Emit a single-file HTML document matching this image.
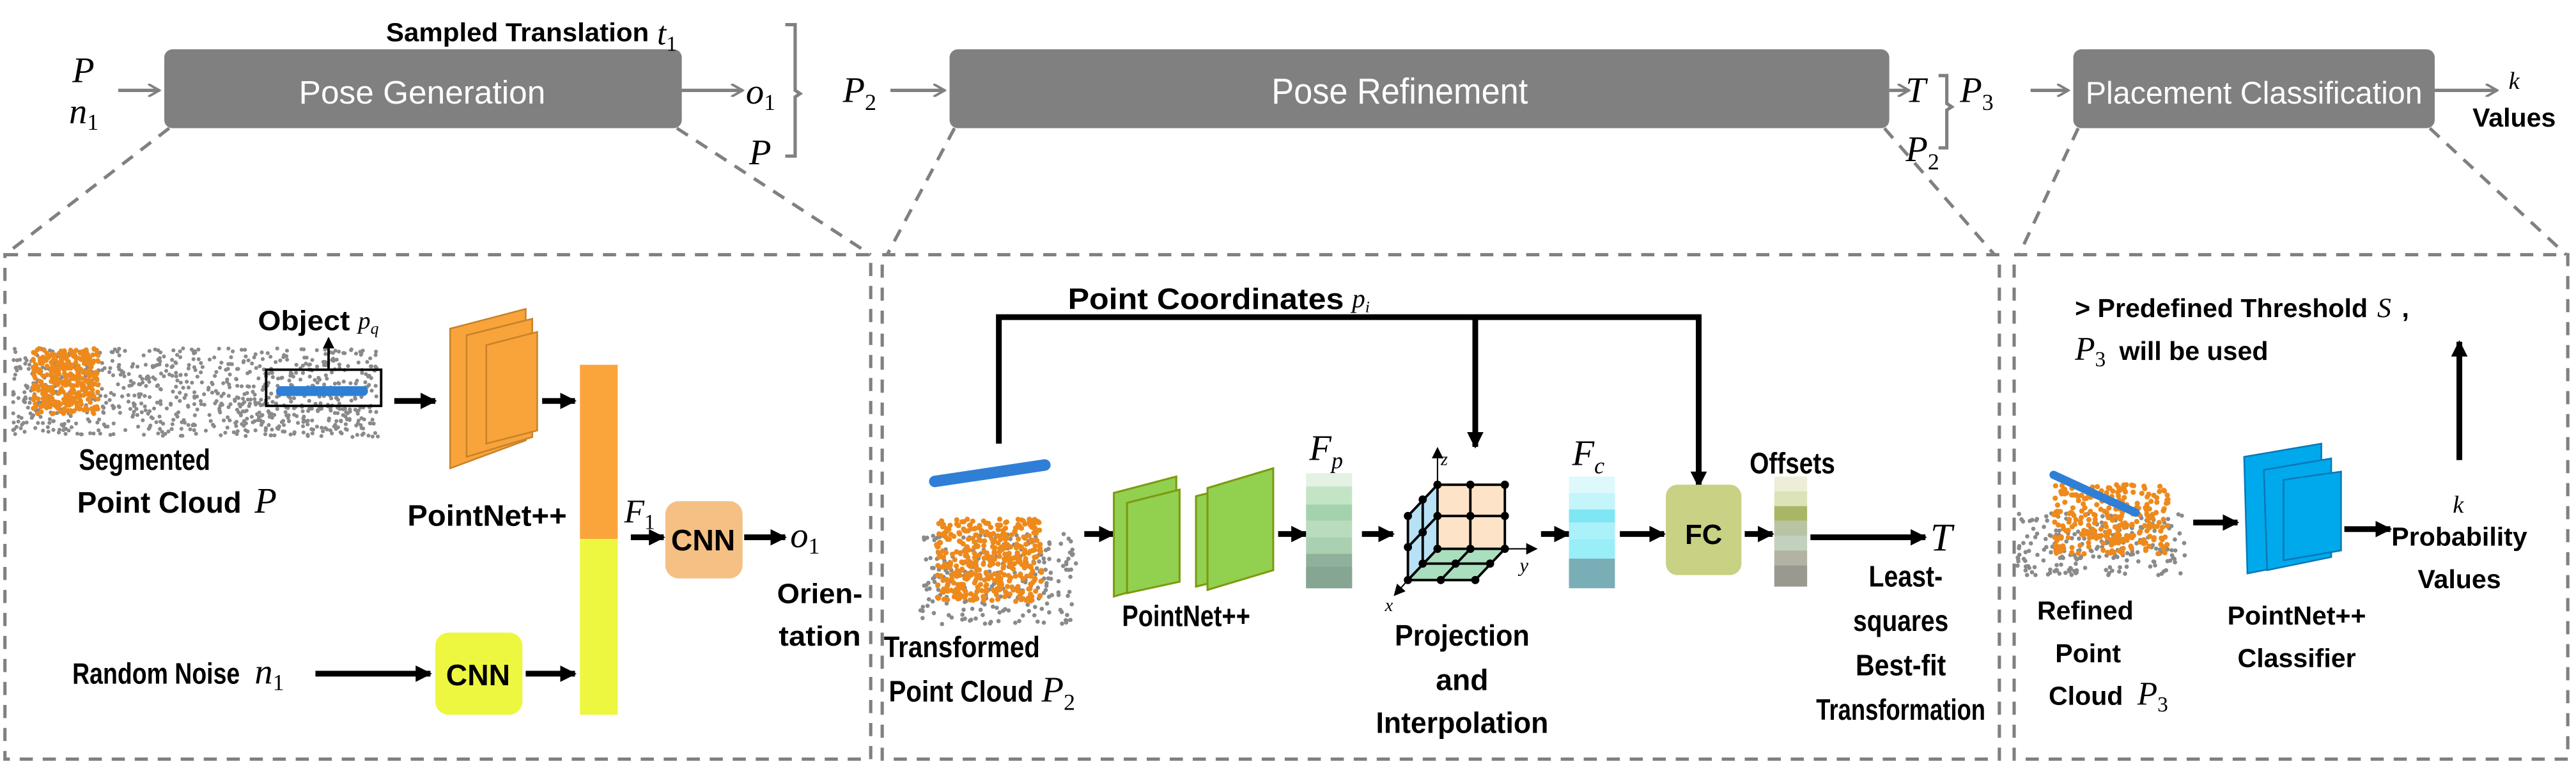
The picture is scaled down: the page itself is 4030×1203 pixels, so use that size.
<!DOCTYPE html>
<html><head><meta charset="utf-8">
<style>
html,body{margin:0;padding:0;background:#fff;width:4030px;height:1203px;overflow:hidden}
svg{display:block}
.b{font-family:"Liberation Sans",sans-serif;font-weight:bold;fill:#000}
.m{font-family:"Liberation Serif",serif;font-style:italic;fill:#000}
.w{font-family:"Liberation Sans",sans-serif;fill:#fff}
</style></head><body>
<svg id="s" width="4030" height="1203" viewBox="0 0 1568 468" preserveAspectRatio="none" xmlns="http://www.w3.org/2000/svg">
<defs>
<marker id="ga" markerWidth="8" markerHeight="8" refX="7" refY="4" orient="auto" markerUnits="userSpaceOnUse"><path d="M0,0 L7,4 L0,8" fill="none" stroke="#808080" stroke-width="1.5"/></marker>
<marker id="ka" markerWidth="10" markerHeight="10" refX="9" refY="5" orient="auto" markerUnits="userSpaceOnUse"><path d="M0,0 L10,5 L0,10 z" fill="#000"/></marker>
<marker id="ks" markerWidth="7" markerHeight="7" refX="6" refY="3.5" orient="auto" markerUnits="userSpaceOnUse"><path d="M0,0 L7,3.5 L0,7 z" fill="#000"/></marker>
</defs>
<!-- top boxes -->
<rect x="100" y="30" width="315" height="48" rx="5" fill="#808080"/>
<text class="w" x="257" y="63" font-size="20" text-anchor="middle">Pose Generation</text>
<rect x="578" y="30" width="572" height="48" rx="5" fill="#808080"/>
<text class="w" x="852" y="63" font-size="22" text-anchor="middle" textLength="156" lengthAdjust="spacingAndGlyphs">Pose Refinement</text>
<rect x="1262" y="30" width="220" height="48" rx="5" fill="#808080"/>
<text class="w" x="1372" y="63" font-size="19" text-anchor="middle" textLength="205" lengthAdjust="spacingAndGlyphs">Placement Classification</text>
<!-- top arrows -->
<g stroke="#808080" stroke-width="2" fill="none">
<line x1="72" y1="55" x2="97" y2="55" marker-end="url(#ga)"/>
<line x1="415" y1="55" x2="452" y2="55" marker-end="url(#ga)"/>
<line x1="542" y1="55" x2="575" y2="55" marker-end="url(#ga)"/>
<line x1="1150" y1="55" x2="1162" y2="55" marker-end="url(#ga)"/>
<line x1="1236" y1="55" x2="1259" y2="55" marker-end="url(#ga)"/>
<line x1="1482" y1="55" x2="1520" y2="55" marker-end="url(#ga)"/>
<path d="M478,15 h6 v40 l3,2 l-3,2 v36 h-6"/>
<path d="M1180,46 h5 v17 l3,2 l-3,2 v23 h-5"/>
</g>
<text class="m" x="44" y="50" font-size="22">P</text>
<text class="m" x="42" y="75" font-size="22">n<tspan font-size="14" font-style="normal" dy="4">1</tspan></text>
<text class="b" x="235" y="25" font-size="16" textLength="160" lengthAdjust="spacingAndGlyphs">Sampled Translation</text>
<text class="m" x="400" y="27" font-size="20">t<tspan font-size="13" font-style="normal" dy="4">1</tspan></text>
<text class="m" x="454" y="63" font-size="22">o<tspan font-size="14" font-style="normal" dy="4">1</tspan></text>
<text class="m" x="456" y="100" font-size="22">P</text>
<text class="m" x="513" y="62" font-size="22">P<tspan font-size="14" font-style="normal" dy="5">2</tspan></text>
<text class="m" x="1160" y="62" font-size="22">T</text>
<text class="m" x="1160" y="98" font-size="22">P<tspan font-size="14" font-style="normal" dy="5">2</tspan></text>
<text class="m" x="1193" y="62" font-size="22">P<tspan font-size="14" font-style="normal" dy="5">3</tspan></text>
<text class="m" x="1527" y="54" font-size="15">k</text>
<text class="b" x="1505" y="77" font-size="16">Values</text>
<!-- dashed panels -->
<g stroke="#808080" stroke-width="2" stroke-dasharray="8,6" fill="none">
<rect x="3" y="155" width="527" height="307"/>
<rect x="537" y="155" width="680" height="307"/>
<rect x="1226" y="155" width="337" height="307"/>
<line x1="103" y1="78" x2="3" y2="155"/>
<line x1="412" y1="78" x2="530" y2="155"/>
<line x1="581" y1="78" x2="540" y2="155"/>
<line x1="1147" y1="78" x2="1214" y2="155"/>
<line x1="1265" y1="78" x2="1229" y2="155"/>
<line x1="1479" y1="78" x2="1562" y2="155"/>
</g>
<!-- LEFT PANEL -->
<g id="pc1"></g>
<rect x="162" y="225" width="70" height="22" fill="none" stroke="#000" stroke-width="1.5"/>
<rect x="168" y="235" width="56" height="6" rx="3" fill="#2f7fd6"/>
<line x1="200" y1="225" x2="200" y2="206" stroke="#000" stroke-width="1.5" marker-end="url(#ks)"/>
<text class="b" x="157" y="201" font-size="17" textLength="56" lengthAdjust="spacingAndGlyphs">Object</text>
<text class="m" x="218" y="200" font-size="15">p<tspan font-size="10" dy="3">q</tspan></text>
<text class="b" x="48" y="286" font-size="18" textLength="80" lengthAdjust="spacingAndGlyphs">Segmented</text>
<text class="b" x="47" y="312" font-size="18" textLength="100" lengthAdjust="spacingAndGlyphs">Point Cloud</text>
<text class="m" x="155" y="312" font-size="22">P</text>
<g stroke="#000" stroke-width="3.5" fill="none">
<line x1="240" y1="244" x2="265" y2="244" marker-end="url(#ka)"/>
<line x1="330" y1="244" x2="350" y2="244" marker-end="url(#ka)"/>
<line x1="384" y1="327" x2="404" y2="327" marker-end="url(#ka)"/>
<line x1="453" y1="327" x2="478" y2="327" marker-end="url(#ka)"/>
<line x1="192" y1="410" x2="262" y2="410" marker-end="url(#ka)"/>
<line x1="320" y1="410" x2="350" y2="410" marker-end="url(#ka)"/>
</g>
<g stroke="#c8822a" stroke-width="1" fill="#f8a43a">
<polygon points="274,200 320,188 320,268 274,285"/>
<polygon points="284,204 324,194 324,266 284,278"/>
<polygon points="296,210 327,202 327,262 296,270"/>
</g>
<text class="b" x="248" y="320" font-size="18" textLength="97" lengthAdjust="spacingAndGlyphs">PointNet++</text>
<rect x="353" y="222" width="23" height="106" fill="#faa53b"/>
<rect x="353" y="328" width="23" height="107" fill="#edf740"/>
<text class="m" x="380" y="318" font-size="20">F<tspan font-size="13" font-style="normal" dy="4">1</tspan></text>
<rect x="405" y="305" width="47" height="47" rx="8" fill="#f5c083"/>
<text class="b" x="428" y="335" font-size="18" text-anchor="middle">CNN</text>
<text class="m" x="481" y="333" font-size="22">o<tspan font-size="14" font-style="normal" dy="4">1</tspan></text>
<text class="b" x="473" y="367" font-size="17" textLength="52" lengthAdjust="spacingAndGlyphs">Orien-</text>
<text class="b" x="474" y="393" font-size="17" textLength="50" lengthAdjust="spacingAndGlyphs">tation</text>
<text class="b" x="44" y="416" font-size="18" textLength="102" lengthAdjust="spacingAndGlyphs">Random Noise</text>
<text class="m" x="155" y="416" font-size="22">n<tspan font-size="14" font-style="normal" dy="4">1</tspan></text>
<rect x="265" y="385" width="53" height="50" rx="8" fill="#edf740"/>
<text class="b" x="291" y="417" font-size="18" text-anchor="middle">CNN</text>
<!-- MIDDLE PANEL -->
<text class="b" x="650" y="188" font-size="18" textLength="168" lengthAdjust="spacingAndGlyphs">Point Coordinates</text>
<text class="m" x="823" y="187" font-size="16">p<tspan font-size="10" dy="3">i</tspan></text>
<g stroke="#000" stroke-width="3.5" fill="none">
<polyline points="608,270 608,193 1034,193 1034,296" marker-end="url(#ka)"/>
<line x1="898" y1="193" x2="898" y2="272" marker-end="url(#ka)"/>
<line x1="660" y1="325" x2="678" y2="325" marker-end="url(#ka)"/>
<line x1="778" y1="325" x2="795" y2="325" marker-end="url(#ka)"/>
<line x1="829" y1="325" x2="848" y2="325" marker-end="url(#ka)"/>
<line x1="938" y1="325" x2="955" y2="325" marker-end="url(#ka)"/>
<line x1="986" y1="325" x2="1013" y2="325" marker-end="url(#ka)"/>
<line x1="1062" y1="325" x2="1079" y2="325" marker-end="url(#ka)"/>
<line x1="1102" y1="327" x2="1172" y2="327" marker-end="url(#ka)"/>
</g>
<line x1="569" y1="293" x2="636" y2="283" stroke="#2f7fd6" stroke-width="7" stroke-linecap="round"/>
<g id="pc2"></g>
<g stroke="#7d9a10" stroke-width="1.2" fill="#92d050">
<polygon points="678,300 716,290 716,352 678,363"/>
<polygon points="686,306 718,298 718,354 686,361"/>
<polygon points="728,302 736,300 736,355 728,357"/>
<polygon points="735,297 775,285 775,347 735,359"/>
</g>
<text class="b" x="683" y="381" font-size="18" textLength="78" lengthAdjust="spacingAndGlyphs">PointNet++</text>
<g>
<rect x="795" y="288" width="28" height="8" fill="#e4f1e4"/>
<rect x="795" y="296" width="28" height="11" fill="#c4e4c6"/>
<rect x="795" y="307" width="28" height="10" fill="#a4d2ac"/>
<rect x="795" y="317" width="28" height="10" fill="#b8dcbd"/>
<rect x="795" y="327" width="28" height="10" fill="#a9d0b0"/>
<rect x="795" y="337" width="28" height="21" fill="#8fb09a"/>
<rect x="795" y="345" width="28" height="13" fill="#86a693"/>
</g>
<text class="m" x="797" y="280" font-size="22">F<tspan font-size="14" dy="5">p</tspan></text>
<!-- cube -->
<polygon points="857,314 875,295 875,334 857,353" fill="#b7e1f5"/>
<rect x="875" y="295" width="41" height="39" fill="#fde3c8"/>
<polygon points="875,334 916,334 898,353 857,353" fill="#a9dfbe"/>
<g stroke="#000" stroke-width="1.5" fill="none">
<line x1="875" y1="295" x2="875" y2="273" stroke-width="0.8" marker-end="url(#ks)"/>
<line x1="916" y1="334" x2="935" y2="334" stroke-width="0.8" marker-end="url(#ks)"/>
<line x1="857" y1="353" x2="849" y2="362" stroke-width="0.8" marker-end="url(#ks)"/>
<rect x="875" y="295" width="41" height="39"/>
<line x1="895" y1="295" x2="895" y2="334"/>
<line x1="875" y1="314" x2="916" y2="314"/>
<polyline points="875,295 857,314 857,353 875,334"/>
<line x1="866" y1="304" x2="866" y2="343"/>
<line x1="857" y1="333" x2="875" y2="314"/>
<line x1="857" y1="353" x2="898" y2="353"/>
<line x1="898" y1="353" x2="916" y2="334"/>
<line x1="866" y1="343" x2="907" y2="343"/>
<line x1="877" y1="353" x2="895" y2="334"/>
</g>
<g fill="#000">
<circle cx="875" cy="295" r="2.5"/><circle cx="895" cy="295" r="2.5"/><circle cx="916" cy="295" r="2.5"/>
<circle cx="875" cy="314" r="2.5"/><circle cx="895" cy="314" r="2.5"/><circle cx="916" cy="314" r="2.5"/>
<circle cx="875" cy="334" r="2.5"/><circle cx="895" cy="334" r="2.5"/><circle cx="916" cy="334" r="2.5"/>
<circle cx="866" cy="304" r="2.5"/><circle cx="857" cy="314" r="2.5"/><circle cx="866" cy="324" r="2.5"/>
<circle cx="857" cy="333" r="2.5"/><circle cx="857" cy="353" r="2.5"/><circle cx="866" cy="343" r="2.5"/>
<circle cx="877" cy="353" r="2.5"/><circle cx="886" cy="343" r="2.5"/><circle cx="898" cy="353" r="2.5"/><circle cx="907" cy="343" r="2.5"/>
</g>
<text class="m" x="877" y="283" font-size="11">z</text>
<text class="m" x="925" y="348" font-size="12">y</text>
<text class="m" x="843" y="372" font-size="11">x</text>
<text class="b" x="890" y="393" font-size="18" text-anchor="middle" textLength="82" lengthAdjust="spacingAndGlyphs">Projection</text>
<text class="b" x="890" y="420" font-size="18" text-anchor="middle">and</text>
<text class="b" x="890" y="446" font-size="18" text-anchor="middle" textLength="105" lengthAdjust="spacingAndGlyphs">Interpolation</text>
<g>
<rect x="955" y="290" width="28" height="10" fill="#def9fc"/>
<rect x="955" y="300" width="28" height="10" fill="#c4f5fb"/>
<rect x="955" y="310" width="28" height="8" fill="#7fe6f3"/>
<rect x="955" y="318" width="28" height="10" fill="#aaf1f9"/>
<rect x="955" y="328" width="28" height="12" fill="#99eef8"/>
<rect x="955" y="340" width="28" height="18" fill="#7aaeb6"/>
</g>
<text class="m" x="957" y="283" font-size="22">F<tspan font-size="14" dy="5">c</tspan></text>
<rect x="1014" y="295" width="46" height="55" rx="7" fill="#c8d184"/>
<text class="b" x="1037" y="331" font-size="17" text-anchor="middle">FC</text>
<g>
<rect x="1080" y="290" width="20" height="9" fill="#eeeed8"/>
<rect x="1080" y="299" width="20" height="9" fill="#dde3b8"/>
<rect x="1080" y="308" width="20" height="9" fill="#a9b668"/>
<rect x="1080" y="317" width="20" height="9" fill="#b9c4a4"/>
<rect x="1080" y="326" width="20" height="9" fill="#c2d1be"/>
<rect x="1080" y="335" width="20" height="9" fill="#b3b3a3"/>
<rect x="1080" y="344" width="20" height="13" fill="#999990"/>
</g>
<text class="b" x="1065" y="288" font-size="18" textLength="52" lengthAdjust="spacingAndGlyphs">Offsets</text>
<text class="m" x="1175" y="335" font-size="24">T</text>
<text class="b" x="1160" y="357" font-size="18" text-anchor="middle" textLength="45" lengthAdjust="spacingAndGlyphs">Least-</text>
<text class="b" x="1157" y="384" font-size="18" text-anchor="middle" textLength="58" lengthAdjust="spacingAndGlyphs">squares</text>
<text class="b" x="1157" y="411" font-size="18" text-anchor="middle" textLength="55" lengthAdjust="spacingAndGlyphs">Best-fit</text>
<text class="b" x="1157" y="438" font-size="18" text-anchor="middle" textLength="103" lengthAdjust="spacingAndGlyphs">Transformation</text>
<text class="b" x="538" y="400" font-size="18" textLength="95" lengthAdjust="spacingAndGlyphs">Transformed</text>
<text class="b" x="541" y="427" font-size="18" textLength="88" lengthAdjust="spacingAndGlyphs">Point Cloud</text>
<text class="m" x="634" y="427" font-size="22">P<tspan font-size="14" font-style="normal" dy="5">2</tspan></text>
<!-- RIGHT PANEL -->
<text class="b" x="1263" y="193" font-size="16">&gt; Predefined Threshold</text>
<text class="m" x="1447" y="193" font-size="17">S</text>
<text class="b" x="1462" y="193" font-size="16">,</text>
<text class="m" x="1263" y="219" font-size="20">P<tspan font-size="13" font-style="normal" dy="4">3</tspan></text>
<text class="b" x="1290" y="219" font-size="16">will be used</text>
<g stroke="#000" stroke-width="3.5" fill="none">
<line x1="1497" y1="280" x2="1497" y2="208" marker-end="url(#ka)"/>
<line x1="1335" y1="318" x2="1362" y2="318" marker-end="url(#ka)"/>
<line x1="1427" y1="322" x2="1455" y2="322" marker-end="url(#ka)"/>
</g>
<g id="pc3"></g>
<g stroke="#0a78b8" stroke-width="1" fill="#00a9ec">
<polygon points="1366,278 1413,270 1413,340 1368,349"/>
<polygon points="1378,286 1419,279 1419,339 1380,347"/>
<polygon points="1390,292 1425,287 1425,335 1390,341"/>
</g>
<text class="m" x="1493" y="312" font-size="15">k</text>
<text class="b" x="1497" y="332" font-size="16" text-anchor="middle">Probability</text>
<text class="b" x="1497" y="358" font-size="16" text-anchor="middle">Values</text>
<text class="b" x="1240" y="377" font-size="16">Refined</text>
<text class="b" x="1251" y="403" font-size="16">Point</text>
<text class="b" x="1247" y="429" font-size="16">Cloud</text>
<text class="m" x="1301" y="429" font-size="20">P<tspan font-size="13" font-style="normal" dy="4">3</tspan></text>
<text class="b" x="1398" y="380" font-size="16" text-anchor="middle">PointNet++</text>
<text class="b" x="1398" y="406" font-size="16" text-anchor="middle">Classifier</text>
</svg>
<script>
(function(){
var seed=7;function r(){seed=(seed*16807)%2147483647;return seed/2147483647;}
var NS="http://www.w3.org/2000/svg";
function dots(id,x0,y0,w,h,n,col,rad){var g=document.getElementById(id);for(var i=0;i<n;i++){var c=document.createElementNS(NS,"circle");c.setAttribute("cx",x0+r()*w);c.setAttribute("cy",y0+r()*h);c.setAttribute("r",rad);c.setAttribute("fill",col);g.appendChild(c);}}
dots("pc1",8,212,222,54,900,"#8a8a8a",1.2);
dots("pc1",20,212,40,40,350,"#ee8a1c",1.5);
dots("pc2",560,325,95,55,240,"#8a8a8a",1.3);
dots("pc2",570,316,64,50,420,"#ee8a1c",1.6);
dots("pc3",1228,312,102,38,220,"#8a8a8a",1.3);
dots("pc3",1250,295,70,42,280,"#ee8a1c",1.6);
var g=document.getElementById("pc3");var l=document.createElementNS(NS,"line");
l.setAttribute("x1","1250");l.setAttribute("y1","289");l.setAttribute("x2","1300");l.setAttribute("y2","312");
l.setAttribute("stroke","#2f7fd6");l.setAttribute("stroke-width","5");l.setAttribute("stroke-linecap","round");g.appendChild(l);
})();
</script>
</body></html>
